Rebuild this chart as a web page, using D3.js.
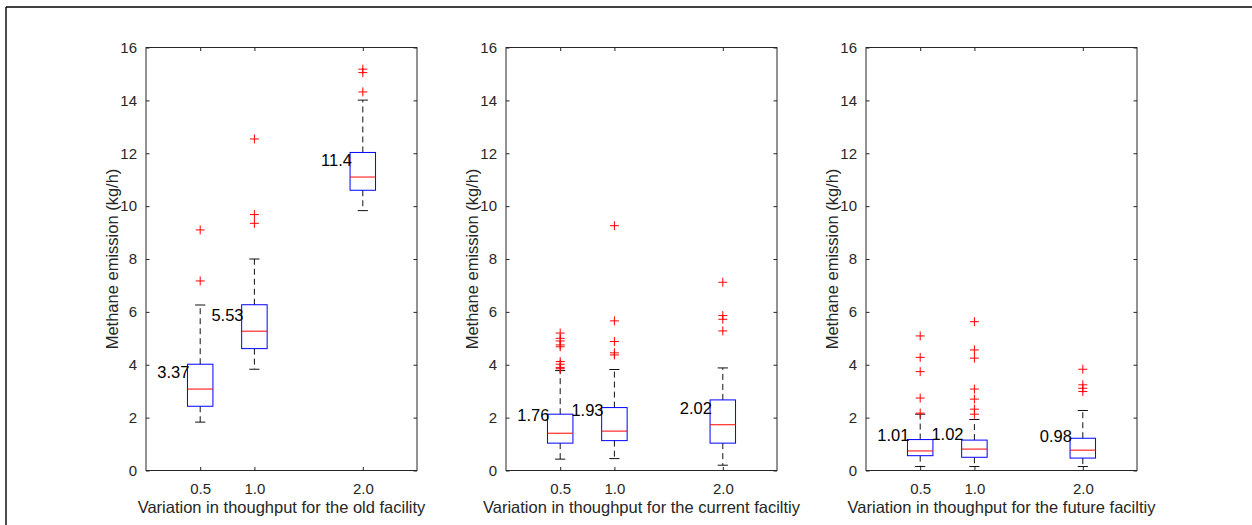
<!DOCTYPE html>
<html><head><meta charset="utf-8">
<script src="https://cdn.jsdelivr.net/npm/d3@7"></script>
<style>
html,body{margin:0;padding:0;background:#fff;}
svg{display:block;font-family:"Liberation Sans",Arial,Helvetica,sans-serif;}
</style></head>
<body>
<svg id="chart" width="1252" height="525"></svg>
<script>
// ---- data ----
const categories = ["0.5", "1.0", "2.0"];
const positions = [0.5, 1.0, 2.0];
const yTicks = [0, 2, 4, 6, 8, 10, 12, 14, 16];
const panelTitles = [
  "Variation in thoughput for the old facility",
  "Variation in thoughput for the current faciltiy",
  "Variation in thoughput for the future faciltiy"
];
const yLabel = "Methane emission (kg/h)";

// old facility
const oldQ1 = [2.43, 4.61, 10.60];
const oldMedian = [3.08, 5.27, 11.10];
const oldQ3 = [4.02, 6.27, 12.03];
const oldLow = [1.83, 3.83, 9.83];
const oldHigh = [6.26, 8.00, 14.01];
const oldMean = ["3.37", "5.53", "11.4"];
const oldOutliers = [[7.17, 9.10], [9.35, 9.68, 12.54], [14.32, 15.05, 15.18]];

// current facility
const curQ1 = [1.035, 1.13, 1.035];
const curMedian = [1.41, 1.49, 1.73];
const curQ3 = [2.13, 2.38, 2.67];
const curLow = [0.43, 0.45, 0.20];
const curHigh = [3.78, 3.82, 3.88];
const curMean = ["1.76", "1.93", "2.02"];
const curOutliers = [[5.20, 5.00, 4.90, 4.75, 4.68, 4.12, 4.02, 3.90, 3.85],
                     [9.26, 5.66, 4.88, 4.45, 4.37],
                     [7.12, 5.86, 5.72, 5.28]];

// future facility
const futQ1 = [0.56, 0.50, 0.47];
const futMedian = [0.74, 0.81, 0.77];
const futQ3 = [1.17, 1.15, 1.22];
const futLow = [0.15, 0.15, 0.15];
const futHigh = [2.13, 1.93, 2.27];
const futMean = ["1.01", "1.02", "0.98"];
const futOutliers = [[5.09, 4.28, 3.74, 2.74, 2.17],
                     [5.63, 4.56, 4.25, 3.08, 2.70, 2.32, 2.13],
                     [3.83, 3.24, 3.11, 2.99]];

const panels = [
  {q1: oldQ1, med: oldMedian, q3: oldQ3, lo: oldLow, hi: oldHigh, mean: oldMean, out: oldOutliers},
  {q1: curQ1, med: curMedian, q3: curQ3, lo: curLow, hi: curHigh, mean: curMean, out: curOutliers},
  {q1: futQ1, med: futMedian, q3: futQ3, lo: futLow, hi: futHigh, mean: futMean, out: futOutliers}
];

// ---- layout ----
const svg = d3.select("#chart");
const axColor = "#262626";
const FONT = "Liberation Sans, Arial, sans-serif";
const panelLeft = [146, 506, 866];
const pw = 271, plotTop = 47.5, plotBottom = 470.5;
const boxHalf = 0.1175, capHalf = 0.047;

// figure border
svg.append("line").attr("x1", 6).attr("x2", 1252).attr("y1", 7).attr("y2", 7)
  .attr("stroke", "#000").attr("stroke-width", 1.6);
svg.append("line").attr("x1", 6).attr("x2", 6).attr("y1", 7).attr("y2", 525)
  .attr("stroke", "#000").attr("stroke-width", 1.4);

panels.forEach((p, pi) => {
  const L = panelLeft[pi];
  const x = d3.scaleLinear().domain([0, 2.5]).range([L, L + pw]);
  const y = d3.scaleLinear().domain([0, 16]).range([plotBottom, plotTop]);
  const g = svg.append("g");

  // axes frame
  g.append("rect").attr("x", L).attr("y", plotTop).attr("width", pw).attr("height", plotBottom - plotTop)
    .attr("fill", "none").attr("stroke", axColor).attr("stroke-width", 1);

  // y axis (left), inward ticks
  const yAxis = d3.axisLeft(y).tickValues(yTicks).tickSize(-3.5).tickPadding(9).tickFormat(d3.format("d"));
  const ya = g.append("g").attr("transform", `translate(${L},0)`).call(yAxis)
    .attr("font-size", 15).attr("font-family", FONT);
  ya.select(".domain").remove();
  ya.selectAll("line").attr("stroke", axColor);
  ya.selectAll("text").attr("fill", axColor);
  // right ticks
  const yr = g.append("g").attr("transform", `translate(${L + pw},0)`)
    .call(d3.axisRight(y).tickValues(yTicks).tickSize(-3.5).tickFormat(""));
  yr.select(".domain").remove();
  yr.selectAll("line").attr("stroke", axColor);

  // x axis bottom
  const xAxis = d3.axisBottom(x).tickValues(positions).tickSize(-3.5).tickPadding(13)
    .tickFormat((d, i) => categories[i]);
  const xa = g.append("g").attr("transform", `translate(0,${plotBottom})`).call(xAxis)
    .attr("font-size", 15).attr("font-family", FONT);
  xa.select(".domain").remove();
  xa.selectAll("line").attr("stroke", axColor);
  xa.selectAll("text").attr("fill", axColor);
  // x top ticks
  const xt = g.append("g").attr("transform", `translate(0,${plotTop})`)
    .call(d3.axisTop(x).tickValues(positions).tickSize(-3.5).tickFormat(""));
  xt.select(".domain").remove();
  xt.selectAll("line").attr("stroke", axColor);

  // labels
  g.append("text").attr("x", L + pw / 2).attr("y", 513).attr("text-anchor", "middle")
    .attr("fill", axColor).attr("font-size", 16.5).attr("font-family", FONT).text(panelTitles[pi]);
  g.append("text").attr("transform", `translate(${L - 34},${(plotTop + plotBottom) / 2}) rotate(-90)`)
    .attr("text-anchor", "middle").attr("dy", "0.36em")
    .attr("fill", axColor).attr("font-size", 16.5).attr("font-family", FONT).text(yLabel);

  positions.forEach((pos, i) => {
    const cx = x(pos);
    // whiskers (dashed)
    g.append("line").attr("x1", cx).attr("x2", cx).attr("y1", y(p.q3[i])).attr("y2", y(p.hi[i]))
      .attr("stroke", "#111").attr("stroke-dasharray", "6,4").attr("stroke-width", 1);
    g.append("line").attr("x1", cx).attr("x2", cx).attr("y1", y(p.q1[i])).attr("y2", y(p.lo[i]))
      .attr("stroke", "#111").attr("stroke-dasharray", "6,4").attr("stroke-width", 1);
    // caps
    [p.hi[i], p.lo[i]].forEach(v => {
      g.append("line").attr("x1", x(pos - capHalf)).attr("x2", x(pos + capHalf))
        .attr("y1", y(v)).attr("y2", y(v)).attr("stroke", "#111").attr("stroke-width", 1);
    });
    // box
    g.append("rect").attr("x", x(pos - boxHalf)).attr("y", y(p.q3[i]))
      .attr("width", x(pos + boxHalf) - x(pos - boxHalf)).attr("height", y(p.q1[i]) - y(p.q3[i]))
      .attr("fill", "none").attr("stroke", "#0000ff").attr("stroke-width", 1);
    // median
    g.append("line").attr("x1", x(pos - boxHalf)).attr("x2", x(pos + boxHalf))
      .attr("y1", y(p.med[i])).attr("y2", y(p.med[i])).attr("stroke", "#ff0000").attr("stroke-width", 1);
    // outliers
    p.out[i].forEach(v => {
      const oy = y(v);
      g.append("path").attr("d", `M${cx - 4.5},${oy}H${cx + 4.5}M${cx},${oy - 4.5}V${oy + 4.5}`)
        .attr("stroke", "#ff0000").attr("stroke-width", 1).attr("fill", "none");
    });
    // mean label
    g.append("text").attr("x", x(pos - 0.1)).attr("y", y(+p.mean[i] + 0.34))
      .attr("text-anchor", "end").attr("dy", "0.36em").attr("fill", "#000")
      .attr("font-size", 16.5).attr("font-family", FONT).text(p.mean[i]);
  });
});
</script>
</body></html>
